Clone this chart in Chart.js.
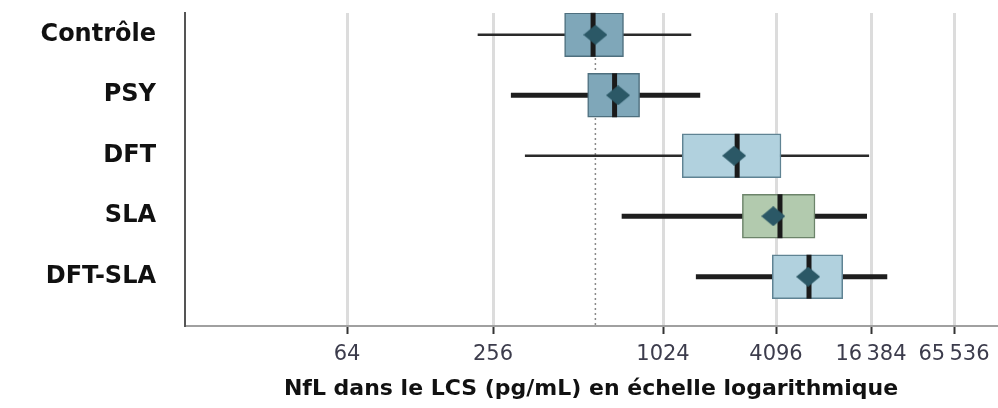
<!DOCTYPE html>
<html>
<head>
<meta charset="utf-8">
<script src="https://cdn.jsdelivr.net/npm/chart.js@4.4.1/dist/chart.umd.min.js"></script>
<style>
  html, body { margin: 0; padding: 0; background: #fff; }
  #wrap { width: 998px; height: 408px; }
</style>
</head>
<body>
<div id="wrap"><canvas id="chart"></canvas></div>
<script>
// groupes et valeurs (pg/mL)
const categories = ["Contrôle", "PSY", "DFT", "SLA", "DFT-SLA"];
const whiskerLow = [222, 297, 333, 733, 1539];
const q1 = [459, 554, 1297, 2712, 3915];
const median = [579, 690, 2543, 4341, 6630];
const mean = [590, 710, 2451, 3962, 6550];
const q3 = [742, 846, 4405, 7236, 10840];
const whiskerHigh = [1442, 1610, 15860, 15380, 21380];
const thickWhisker = [false, true, false, true, true];
const refValue = 590;

const tickValues = [64, 256, 1024, 4096, 16384, 65536];
const tickLabels = ["64", "256", "1024", "4096", "16\u202F384", "65\u202F536"];

// échelle log "déformée" de la figure : position de chaque graduation sur l'axe
const axisStops = [162, 308, 478, 591, 686, 769];
const axisMax = 812;

function toPos(v) {
  const l = Math.log2(v);
  const ls = tickValues.map(t => Math.log2(t));
  let k = 0;
  while (k < ls.length - 2 && l > ls[k + 1]) k++;
  return axisStops[k] + (l - ls[k]) / (ls[k + 1] - ls[k]) * (axisStops[k + 1] - axisStops[k]);
}

const boxColors = ["#7fa7b9", "#7fa7b9", "#b1d1de", "#b2caae", "#b1d1de"];
const boxBorders = ["#4e6f7e", "#4e6f7e", "#5f8393", "#6c846a", "#5f8393"];

// losange (moyenne)
const diamond = document.createElement("canvas");
diamond.width = 24;
diamond.height = 20;
const dctx = diamond.getContext("2d");
dctx.fillStyle = "#2b5866";
dctx.beginPath();
dctx.moveTo(12, 0); dctx.lineTo(24, 10); dctx.lineTo(12, 20); dctx.lineTo(0, 10);
dctx.closePath();
dctx.fill();

const refLinePlugin = {
  id: "refLine",
  beforeDatasetsDraw(chart) {
    const { ctx, chartArea, scales } = chart;
    const x = scales.x.getPixelForValue(toPos(refValue));
    ctx.save();
    ctx.strokeStyle = "#8a8a8a";
    ctx.lineWidth = 1.5;
    ctx.setLineDash([2, 3]);
    ctx.beginPath();
    ctx.moveTo(x, chartArea.top);
    ctx.lineTo(x, chartArea.bottom);
    ctx.stroke();
    ctx.restore();
  }
};

const idx = categories.map((c, i) => i);

const chart = new Chart(document.getElementById("chart"), {
  type: "bar",
  data: {
    datasets: [
      {
        type: "scatter",
        data: idx.map(i => ({ x: toPos(mean[i]), y: i })),
        pointStyle: diamond,
        pointRadius: 12,
        clip: false,
        order: 0
      },
      {
        type: "scatter",
        data: idx.map(i => ({ x: toPos(median[i]), y: i })),
        pointStyle: "line",
        pointRotation: 90,
        pointRadius: 22,
        pointBorderWidth: 5,
        pointBorderColor: "#1a1a1a",
        clip: false,
        order: 1
      },
      {
        type: "bar",
        indexAxis: "y",
        grouped: false,
        barThickness: 44,
        data: idx.map(i => ({ y: i, x: [toPos(q1[i]), toPos(q3[i])] })),
        backgroundColor: boxColors,
        borderColor: boxBorders,
        borderWidth: 1.5,
        borderSkipped: false,
        order: 2
      },
      {
        type: "bar",
        indexAxis: "y",
        grouped: false,
        barThickness: 2,
        data: idx.filter(i => !thickWhisker[i]).map(i => ({ y: i, x: [toPos(whiskerLow[i]), toPos(whiskerHigh[i])] })),
        backgroundColor: "#2a2a2a",
        order: 3
      },
      {
        type: "bar",
        indexAxis: "y",
        grouped: false,
        barThickness: 4.5,
        data: idx.filter(i => thickWhisker[i]).map(i => ({ y: i, x: [toPos(whiskerLow[i]), toPos(whiskerHigh[i])] })),
        backgroundColor: "#1e1e1e",
        order: 3
      }
    ]
  },
  options: {
    indexAxis: "y",
    responsive: true,
    maintainAspectRatio: false,
    animation: false,
    events: [],
    layout: { autoPadding: false, padding: { top: 13, right: 1, left: 0, bottom: 0 } },
    plugins: { legend: { display: false }, tooltip: { enabled: false } },
    scales: {
      x: {
        type: "linear",
        min: 0,
        max: axisMax,
        afterBuildTicks: s => { s.ticks = tickValues.map(v => ({ value: toPos(v) })); },
        afterFit: s => { s.height = 82; s.paddingLeft = 0; s.paddingRight = 0; },
        ticks: {
          callback: (v, i) => tickLabels[i],
          font: { family: "DejaVu Sans", size: 21 },
          color: "#3c3c4c",
          padding: 8,
          maxRotation: 0,
          autoSkip: false
        },
        grid: { color: "#dcdcdc", lineWidth: 3, tickColor: "#333", tickWidth: 2, tickLength: 8 },
        border: { color: "#a0a0a0", width: 2 },
        title: {
          display: true,
          text: "NfL dans le LCS (pg/mL) en échelle logarithmique",
          font: { family: "DejaVu Sans", size: 22, weight: "bold" },
          color: "#111",
          padding: { top: 4, bottom: 6 }
        }
      },
      y: {
        type: "linear",
        reverse: true,
        offset: false,
        bounds: "data",
        grace: 0,
        min: -0.36,
        max: 4.815,
        afterBuildTicks: s => { s.ticks = idx.map(i => ({ value: i })); },
        afterFit: s => { s.width = 185; s.paddingTop = 0; s.paddingBottom = 0; },
        ticks: {
          callback: (v, i) => categories[i],
          font: { family: "DejaVu Sans", size: 24, weight: "bold" },
          color: "#111",
          padding: 29,
          autoSkip: false
        },
        grid: { display: false, drawTicks: false, offset: false },
        border: { color: "#555", width: 2 }
      }
    }
  },
  plugins: [refLinePlugin]
});
</script>
</body>
</html>
